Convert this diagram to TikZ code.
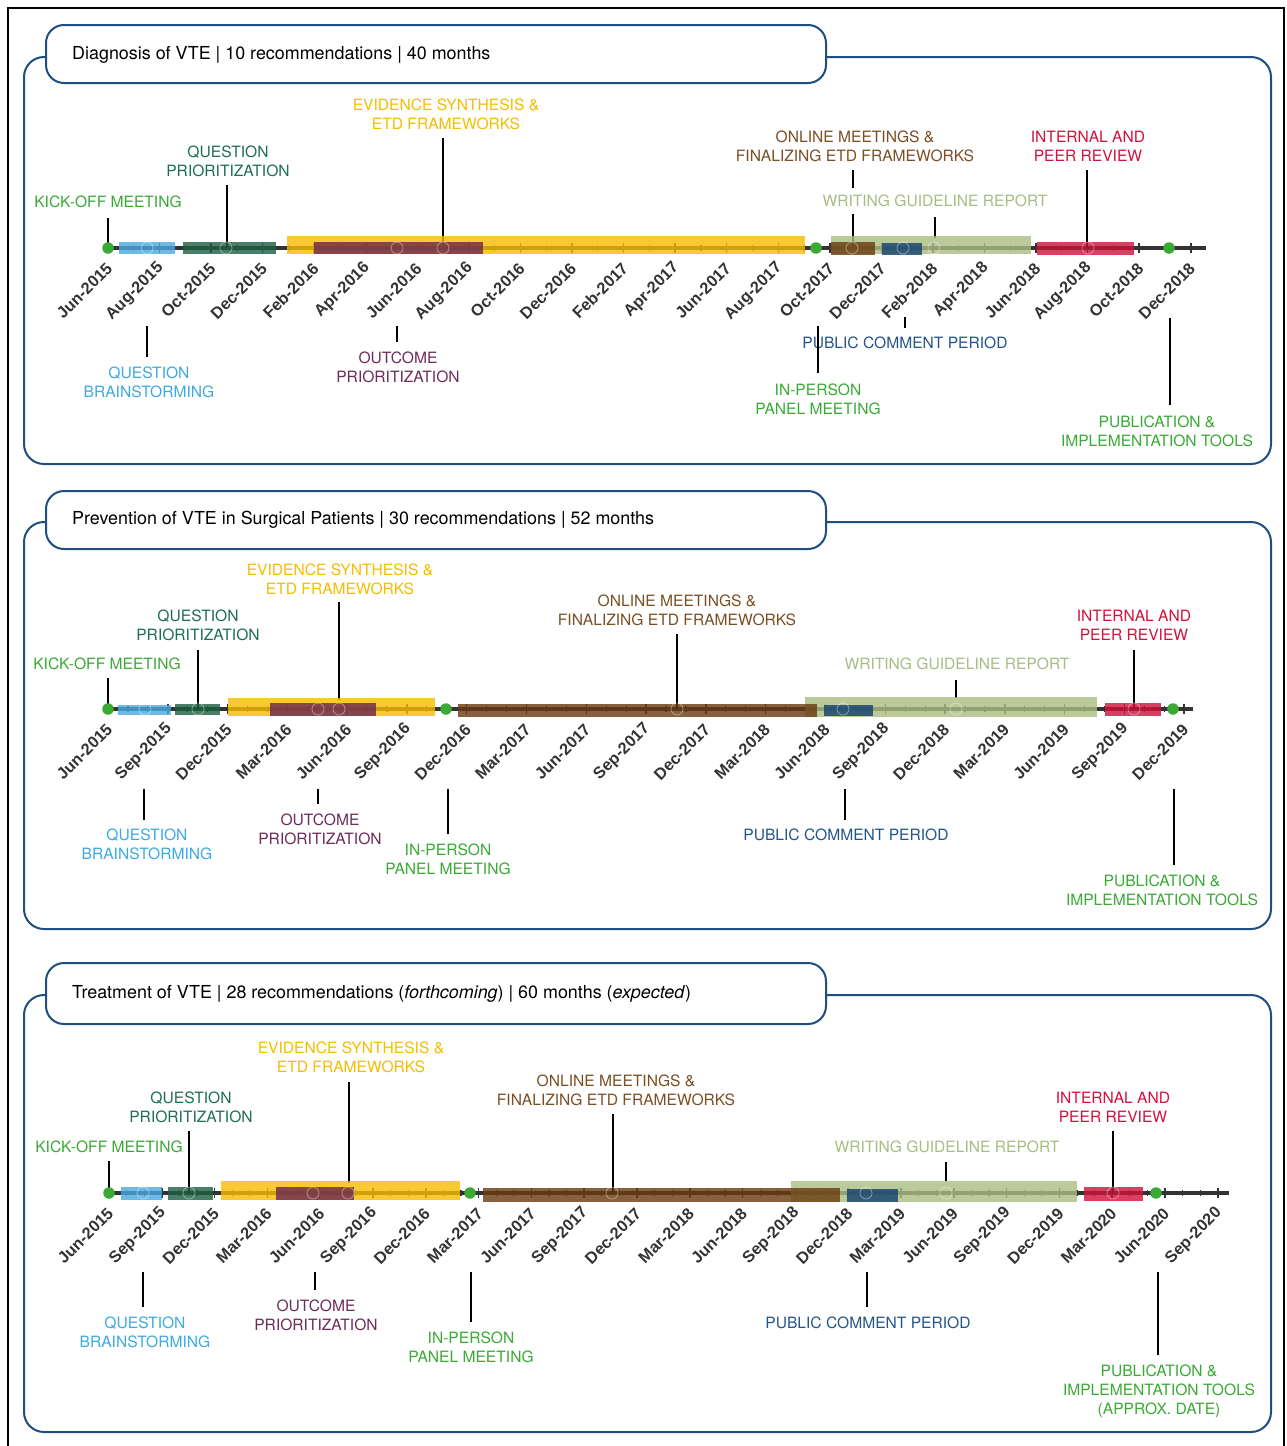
\documentclass[tikz,border=0pt]{standalone}
\usepackage{fontspec}
\setmainfont{TeX Gyre Heros}
\newfontfamily\tickfont{Liberation Sans}
\definecolor{axc}{HTML}{333333}
\definecolor{cPanel}{HTML}{1F4E80}
\definecolor{cKick}{HTML}{3AAA35}
\definecolor{tQP}{HTML}{1E6E55}
\definecolor{bQP}{HTML}{1D6042}
\definecolor{tEv}{HTML}{F5BD00}
\definecolor{bEv}{HTML}{F7BC00}
\definecolor{tOn}{HTML}{7A4F24}
\definecolor{bOn}{HTML}{6A3A10}
\definecolor{tIn}{HTML}{D4103C}
\definecolor{bIn}{HTML}{D0103A}
\definecolor{tWr}{HTML}{A9BC84}
\definecolor{bWr}{HTML}{ABBD82}
\definecolor{tBr}{HTML}{3DAAE0}
\definecolor{bBr}{HTML}{4AA8E0}
\definecolor{tOut}{HTML}{6E2C5C}
\definecolor{bOut}{HTML}{6A2452}
\definecolor{tPub}{HTML}{24558A}
\definecolor{bPub}{HTML}{124070}
\begin{document}
\begin{tikzpicture}[x=1pt,y=-1pt,
  lbl/.style={font=\fontsize{15.6}{19}\selectfont, align=center, inner sep=0pt, anchor=north},
  lead/.style={line width=2pt, black},
  axisline/.style={line width=4pt, axc},
  tickmaj/.style={line width=1.5pt, axc},
  tickmin/.style={line width=1.2pt, axc},
  tlab/.style={font=\tickfont\bfseries\fontsize{16.3}{18}\selectfont, text=axc, rotate=45, anchor=east, inner sep=0pt},
  tbar/.style={fill=#1, fill opacity=0.8, draw=none},
  gdot/.style={circle, fill=cKick, draw=none, inner sep=0pt, minimum size=11.5pt},
  ring/.style={circle, draw=white, draw opacity=0.4, line width=0.8pt, inner sep=0pt, minimum size=12pt},
  panel/.style={draw=cPanel, line width=2pt, rounded corners=20pt},
  tabbox/.style={draw=cPanel, line width=2pt, rounded corners=18pt, fill=white, inner sep=0pt, anchor=north west, minimum width=780pt},
  ttl/.style={font=\fontsize{17.9}{20}\selectfont, anchor=base west, inner sep=0pt}
]
\useasboundingbox (0,0) rectangle (1287,1446);
\fill[white] (0,0) rectangle (1287,1446);
% outer frame
\draw[line width=2.5pt, black] (8,1452) -- (8,8) -- (1284,8) -- (1284,1452);

% ================= PANEL 1 =================
\draw[panel] (24,57) rectangle (1271,464);
\node[tabbox, minimum height=58pt] (tab1) at (45,24) {};
\node[ttl] (t1) at (72,59.4) {Diagnosis of VTE | 10 recommendations | 40 months};

\draw[axisline] (107,248) -- (1206,248);
\foreach \m in {0,...,42}{
  \pgfmathsetmacro\xx{108+25.78*\m}
  \ifodd\m\relax \draw[tickmin] (\xx,245) -- (\xx,251); \else \draw[tickmaj] (\xx,243) -- (\xx,253); \fi
}
\foreach \m/\t in {0/Jun-2015,2/Aug-2015,4/Oct-2015,6/Dec-2015,8/Feb-2016,10/Apr-2016,12/Jun-2016,14/Aug-2016,16/Oct-2016,18/Dec-2016,20/Feb-2017,22/Apr-2017,24/Jun-2017,26/Aug-2017,28/Oct-2017,30/Dec-2017,32/Feb-2018,34/Apr-2018,36/Jun-2018,38/Aug-2018,40/Oct-2018,42/Dec-2018}{
  \node[tlab] (p1l\m) at ({108+25.78*\m+1.5},265.5) {\t};
}
% leaders
\draw[lead] (108,218) -- (108,248);
\draw[lead] (227,185) -- (227,248);
\draw[lead] (443,138) -- (443,245);
\draw[lead] (853,170) -- (853,248);
\draw[lead] (935,217) -- (935,238);
\draw[lead] (1087,170) -- (1087,248);
\draw[lead] (147,326) -- (147,357);
\draw[lead] (397,326) -- (397,342);
\draw[lead] (905,317) -- (905,328);
\draw[lead] (1170,318) -- (1170,405);
% bars
\fill[tbar=bEv] (287,236) rectangle (805,254);
\fill[tbar=bOut] (314,242) rectangle (483,254);
\fill[tbar=bWr] (831,236) rectangle (1031,254);
\fill[tbar=bOn] (831,242) rectangle (875,255);
\fill[tbar=bPub] (882,243) rectangle (922,255);
\fill[tbar=bIn] (1037,242) rectangle (1134,255);
\fill[tbar=bBr] (119,242) rectangle (175,254);
\fill[tbar=bQP] (183,242) rectangle (276,254);
\foreach \x [count=\i] in {147,226,397,443,852,903,934,1088}{ \node[ring] (r1\i) at (\x,248) {}; }
\node[gdot] (d1a) at (108,248) {};
\node[gdot] (d1b) at (816,248) {};
\node[gdot] (d1c) at (1169,248) {};
% labels
\node[lbl, text=cKick] (k1) at (108,195.5) {KICK-OFF MEETING};
\node[lbl, text=tQP] (q1) at (228,145.5) {QUESTION\\PRIORITIZATION};
\node[lbl, text=tEv] (e1) at (446,98.5) {EVIDENCE SYNTHESIS \&\\ETD FRAMEWORKS};
\node[lbl, text=tOn] (o1) at (855,130.5) {ONLINE MEETINGS \&\\FINALIZING ETD FRAMEWORKS};
\node[lbl, text=tIn] (i1) at (1088,130.5) {INTERNAL AND\\PEER REVIEW};
\node[lbl, text=tWr, anchor=center, fill=white, inner ysep=7pt, inner xsep=2pt] (w1) at (935,201) {WRITING GUIDELINE REPORT};
\node[lbl, text=tBr] (b1) at (149,366.5) {QUESTION\\BRAINSTORMING};
\node[lbl, text=tOut] (u1) at (398,351.5) {OUTCOME\\PRIORITIZATION};
\node[lbl, text=tPub] (c1) at (905,336.5) {PUBLIC COMMENT PERIOD};
\draw[lead] (818,326) -- (818,373);
\node[lbl, text=cKick] (n1) at (818,383.5) {IN-PERSON\\PANEL MEETING};
\node[lbl, text=cKick] (pu1) at (1157,415.5) {PUBLICATION \&\\IMPLEMENTATION TOOLS};

% ================= PANEL 2 =================
\draw[panel] (24,522) rectangle (1271,929);
\node[tabbox, minimum height=58pt] (tab2) at (45,490) {};
\node[ttl] (t2) at (72,524.4) {Prevention of VTE in Surgical Patients | 30 recommendations | 52 months};

\draw[axisline] (107,709) -- (1193,709);
\foreach \m in {0,...,54}{
  \pgfmathsetmacro\xx{108+19.93*\m}
  \pgfmathtruncatemacro\rr{mod(\m,3)}
  \ifnum\rr=0 \draw[tickmaj] (\xx,704) -- (\xx,714); \else \draw[tickmin] (\xx,706) -- (\xx,712); \fi
}
\foreach \m/\t in {0/Jun-2015,3/Sep-2015,6/Dec-2015,9/Mar-2016,12/Jun-2016,15/Sep-2016,18/Dec-2016,21/Mar-2017,24/Jun-2017,27/Sep-2017,30/Dec-2017,33/Mar-2018,36/Jun-2018,39/Sep-2018,42/Dec-2018,45/Mar-2019,48/Jun-2019,51/Sep-2019,54/Dec-2019}{
  \node[tlab] (p2l\m) at ({108+19.93*\m+1.5},726.5) {\t};
}
\draw[lead] (108,678) -- (108,709);
\draw[lead] (198,650) -- (198,709);
\draw[lead] (339,602) -- (339,700);
\draw[lead] (677,634) -- (677,709);
\draw[lead] (1134,650) -- (1134,709);
\draw[lead] (956,680) -- (956,698);
\draw[lead] (144,789) -- (144,820);
\draw[lead] (318,789) -- (318,804);
\draw[lead] (448,789) -- (448,834);
\draw[lead] (845,789) -- (845,820);
\draw[lead] (1174,789) -- (1174,865);
\fill[tbar=bEv] (228,698) rectangle (435,716);
\fill[tbar=bOut] (270,703) rectangle (376,716);
\fill[tbar=bWr] (805,697) rectangle (1097,717);
\fill[tbar=bOn] (458,704) rectangle (817,717);
\fill[tbar=bPub] (824,705) rectangle (873,716);
\fill[tbar=bIn] (1105,703) rectangle (1161,716);
\fill[tbar=bBr] (118,705) rectangle (171,715);
\fill[tbar=bQP] (175,704) rectangle (220,715);
\foreach \x [count=\i] in {145,198,318,339,677,843,956,1134}{ \node[ring] (r2\i) at (\x,709) {}; }
\node[gdot] (d2a) at (108,709) {};
\node[gdot] (d2b) at (446,709) {};
\node[gdot] (d2c) at (1173,709) {};
\node[lbl, text=cKick] (k2) at (107,657.5) {KICK-OFF MEETING};
\node[lbl, text=tQP] (q2) at (198,609.5) {QUESTION\\PRIORITIZATION};
\node[lbl, text=tEv] (e2) at (340,563.5) {EVIDENCE SYNTHESIS \&\\ETD FRAMEWORKS};
\node[lbl, text=tOn] (o2) at (677,594.5) {ONLINE MEETINGS \&\\FINALIZING ETD FRAMEWORKS};
\node[lbl, text=tIn] (i2) at (1134,609.5) {INTERNAL AND\\PEER REVIEW};
\node[lbl, text=tWr] (w2) at (957,657.5) {WRITING GUIDELINE REPORT};
\node[lbl, text=tBr] (b2) at (147,828.5) {QUESTION\\BRAINSTORMING};
\node[lbl, text=tOut] (u2) at (320,813.5) {OUTCOME\\PRIORITIZATION};
\node[lbl, text=cKick] (n2) at (448,843.5) {IN-PERSON\\PANEL MEETING};
\node[lbl, text=tPub] (c2) at (846,828.5) {PUBLIC COMMENT PERIOD};
\node[lbl, text=cKick] (pu2) at (1162,874.5) {PUBLICATION \&\\IMPLEMENTATION TOOLS};

% ================= PANEL 3 =================
\draw[panel] (24,995) rectangle (1271,1432);
\node[tabbox, minimum height=61pt] (tab3) at (45,962) {};
\node[ttl] (t3) at (72,998.4) {Treatment of VTE | 28 recommendations (\textit{forthcoming}) | 60 months (\textit{expected})};

\draw[axisline] (109,1193) -- (1229,1193);
\foreach \m in {0,...,63}{
  \pgfmathsetmacro\xx{109+17.6*\m}
  \pgfmathtruncatemacro\rr{mod(\m,3)}
  \ifnum\rr=0 \draw[tickmaj] (\xx,1188) -- (\xx,1198); \else \draw[tickmin] (\xx,1190) -- (\xx,1196); \fi
}
\foreach \m/\t in {0/Jun-2015,3/Sep-2015,6/Dec-2015,9/Mar-2016,12/Jun-2016,15/Sep-2016,18/Dec-2016,21/Mar-2017,24/Jun-2017,27/Sep-2017,30/Dec-2017,33/Mar-2018,36/Jun-2018,39/Sep-2018,42/Dec-2018,45/Mar-2019,48/Jun-2019,51/Sep-2019,54/Dec-2019,57/Mar-2020,60/Jun-2020,63/Sep-2020}{
  \node[tlab] (p3l\m) at ({109+17.6*\m+1.5},1210.5) {\t};
}
\draw[lead] (109,1161) -- (109,1193);
\draw[lead] (189,1131) -- (189,1193);
\draw[lead] (349,1082) -- (349,1183);
\draw[lead] (613,1114) -- (613,1193);
\draw[lead] (1113,1131) -- (1113,1193);
\draw[lead] (946,1162) -- (946,1181);
\draw[lead] (143,1272) -- (143,1307);
\draw[lead] (315,1272) -- (315,1290);
\draw[lead] (471,1272) -- (471,1322);
\draw[lead] (867,1272) -- (867,1307);
\draw[lead] (1158,1272) -- (1158,1355);
\fill[tbar=bEv] (221,1181) rectangle (460,1200);
\fill[tbar=bOut] (276,1187) rectangle (354,1200);
\fill[tbar=bWr] (791,1181) rectangle (1077,1202);
\fill[tbar=bOn] (483,1188) rectangle (840,1202);
\fill[tbar=bPub] (847,1189) rectangle (898,1202);
\fill[tbar=bIn] (1084,1187) rectangle (1143,1201);
\fill[tbar=bBr] (121,1187) rectangle (162,1200);
\fill[tbar=bQP] (168,1187) rectangle (213,1200);
\foreach \x [count=\i] in {143,189,313,348,612,866,946,1113}{ \node[ring] (r3\i) at (\x,1193) {}; }
\node[gdot] (d3a) at (109,1193) {};
\node[gdot] (d3b) at (470,1193) {};
\node[gdot] (d3c) at (1156,1193) {};
\node[lbl, text=cKick] (k3) at (109,1140.5) {KICK-OFF MEETING};
\node[lbl, text=tQP] (q3) at (191,1091.5) {QUESTION\\PRIORITIZATION};
\node[lbl, text=tEv] (e3) at (351,1041.5) {EVIDENCE SYNTHESIS \&\\ETD FRAMEWORKS};
\node[lbl, text=tOn] (o3) at (616,1074.5) {ONLINE MEETINGS \&\\FINALIZING ETD FRAMEWORKS};
\node[lbl, text=tIn] (i3) at (1113,1091.5) {INTERNAL AND\\PEER REVIEW};
\node[lbl, text=tWr] (w3) at (947,1140.5) {WRITING GUIDELINE REPORT};
\node[lbl, text=tBr] (b3) at (145,1316.5) {QUESTION\\BRAINSTORMING};
\node[lbl, text=tOut] (u3) at (316,1299.5) {OUTCOME\\PRIORITIZATION};
\node[lbl, text=cKick] (n3) at (471,1331.5) {IN-PERSON\\PANEL MEETING};
\node[lbl, text=tPub] (c3) at (868,1316.5) {PUBLIC COMMENT PERIOD};
\node[lbl, text=cKick] (pu3) at (1159,1364.5) {PUBLICATION \&\\IMPLEMENTATION TOOLS\\(APPROX. DATE)};
\end{tikzpicture}
\end{document}
